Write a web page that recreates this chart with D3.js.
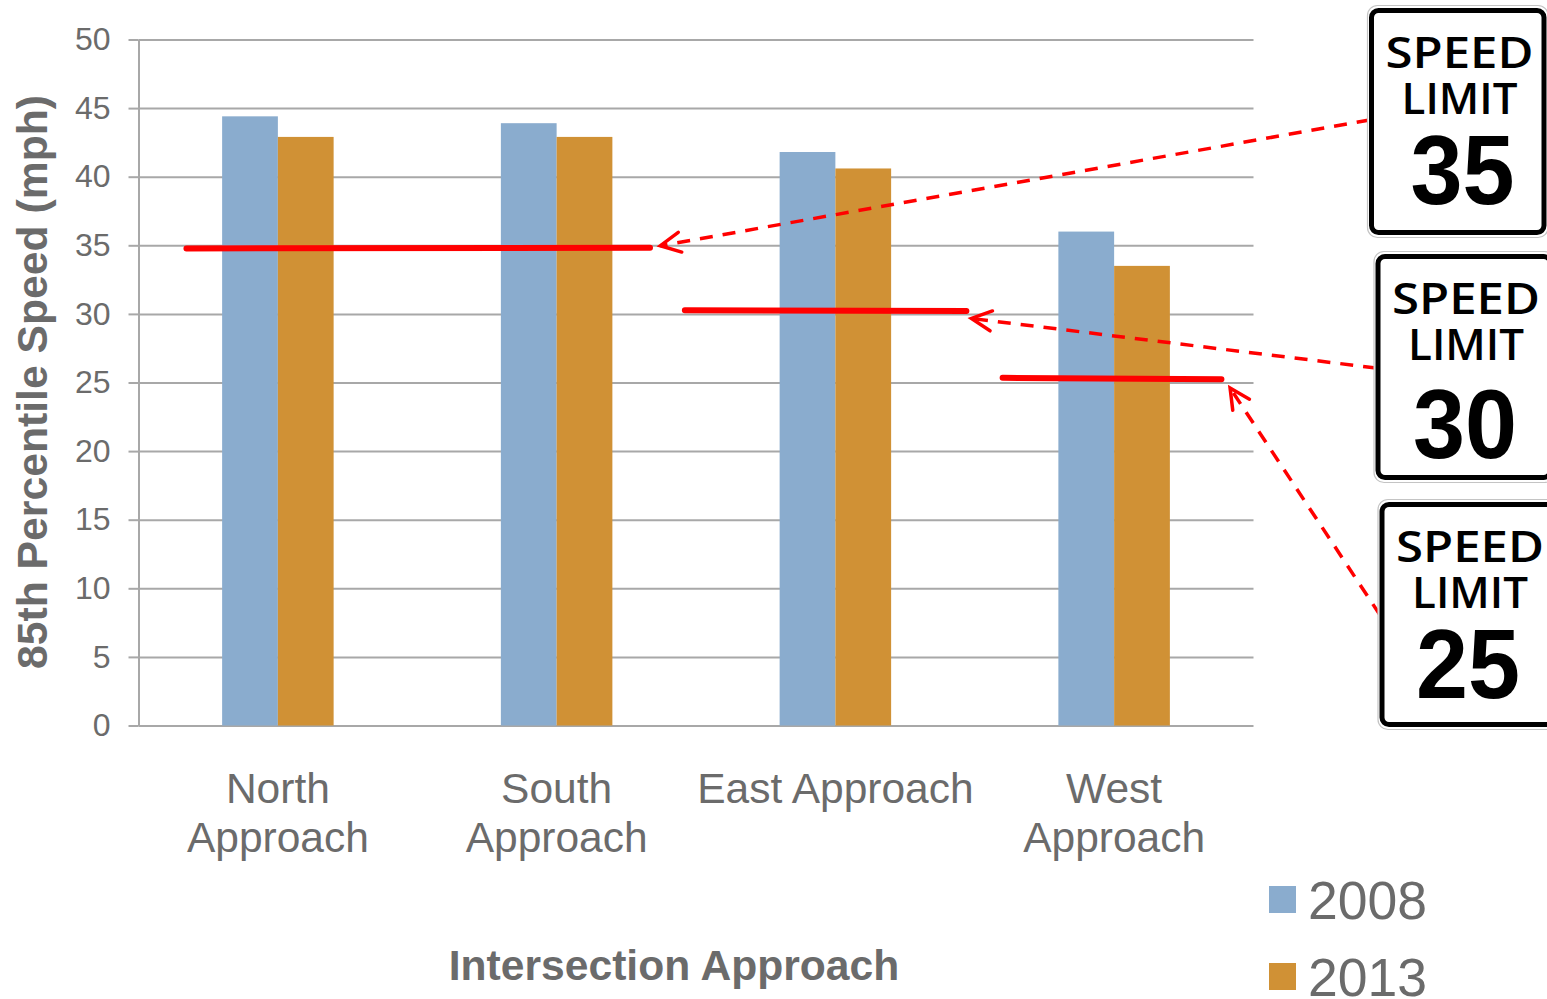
<!DOCTYPE html>
<html>
<head>
<meta charset="utf-8">
<script src="https://cdn.jsdelivr.net/npm/d3@7/dist/d3.min.js"></script>
<style>
  html, body { margin: 0; padding: 0; background: #fff; overflow: hidden; }
  svg { display: block; font-family: "Liberation Sans", Arial, sans-serif; }
</style>
</head>
<body>
<svg id="chart" width="1547" height="999"></svg>
<script>
// Speeds by approach
const approaches = [["North", "Approach"], ["South", "Approach"], ["East Approach"], ["West", "Approach"]];
const years = ["2008", "2013"];
const speeds2008 = [44.4, 43.9, 41.8, 36.0];
const speeds2013 = [42.9, 42.9, 40.6, 33.5];
const yTicks = [0, 5, 10, 15, 20, 25, 30, 35, 40, 45, 50];

// Posted limits: span in approach units along the x axis, level in mph at each end
const limitValues = [35, 30, 25];
const limitFrom = [0.172, 1.96, 3.1];
const limitTo = [1.835, 2.97, 3.885];
const limitLevelFrom = [34.77, 30.27, 25.34];
const limitLevelTo = [34.82, 30.22, 25.24];
const arrowTipAt = [1.872, 2.988, 3.916];
const arrowTipLevel = [34.97, 29.67, 24.6];

const colors = { 2008: "#8aacce", 2013: "#d09135" };
const gray = "#6b6b6b";
const gridGray = "#a8a8a8";
const red = "#ff0000";

const margin = { left: 138.5, right: 1253.5, top: 39.5, bottom: 725.5 };
const svg = d3.select("#chart");

const y = d3.scaleLinear().domain([0, 50]).range([margin.bottom, margin.top]);
const x = d3.scaleBand().domain(d3.range(approaches.length)).range([margin.left, margin.right]);
const inner = d3.scaleBand().domain(years).range([0, x.bandwidth() * 0.4]);
const position = d3.scaleLinear().domain([0, approaches.length]).range([margin.left, margin.right]);

// Gridlines and value axis
const yAxis = d3.axisLeft(y).tickValues(yTicks).tickSize(10).tickPadding(18).tickSizeOuter(0);
const gy = svg.append("g").attr("transform", `translate(${margin.left},0)`).call(yAxis);
gy.select(".domain").attr("stroke", gridGray).attr("stroke-width", 2);
gy.selectAll(".tick line").attr("stroke", gridGray).attr("stroke-width", 2);
gy.selectAll(".tick text").attr("fill", gray).style("font-size", "32px").style("font-family", "Liberation Sans");
gy.selectAll(".tick").append("line")
  .attr("x1", 0).attr("x2", margin.right - margin.left)
  .attr("stroke", gridGray).attr("stroke-width", 2);

// Bars
const offset = x.bandwidth() * 0.3;
const seriesByYear = { 2008: speeds2008, 2013: speeds2013 };
years.forEach(year => {
  svg.append("g").selectAll("rect")
    .data(seriesByYear[year])
    .join("rect")
    .attr("x", (d, i) => x(i) + offset + inner(year))
    .attr("y", d => y(d))
    .attr("width", inner.bandwidth())
    .attr("height", d => y(0) - y(d))
    .attr("fill", colors[year]);
});

// Category labels
approaches.forEach((lines, i) => {
  const label = svg.append("text")
    .attr("text-anchor", "middle")
    .attr("fill", gray)
    .style("font-size", "42.5px");
  lines.forEach((line, k) => {
    label.append("tspan")
      .attr("x", x(i) + x.bandwidth() / 2)
      .attr("y", 803 + k * 49)
      .text(line);
  });
});

// Axis titles
svg.append("text")
  .attr("x", 674).attr("y", 980)
  .attr("text-anchor", "middle")
  .attr("fill", gray)
  .style("font-size", "42.6px").style("font-weight", "bold")
  .text("Intersection Approach");
svg.append("text")
  .attr("transform", "translate(47,382) rotate(-90)")
  .attr("text-anchor", "middle")
  .attr("fill", gray)
  .style("font-size", "42.7px").style("font-weight", "bold")
  .text("85th Percentile Speed (mph)");

// Legend
const legendY = d3.scalePoint().domain(years).range([886, 963]);
years.forEach(year => {
  svg.append("rect")
    .attr("x", 1269).attr("y", legendY(year))
    .attr("width", 27).attr("height", 27)
    .attr("fill", colors[year]);
  svg.append("text")
    .attr("x", 1308).attr("y", legendY(year) + 33)
    .attr("fill", gray)
    .style("font-size", "53.5px")
    .text(year);
});

// Posted speed limit levels
limitValues.forEach((limit, i) => {
  svg.append("line")
    .attr("x1", position(limitFrom[i])).attr("y1", y(limitLevelFrom[i]))
    .attr("x2", position(limitTo[i])).attr("y2", y(limitLevelTo[i]))
    .attr("stroke", red).attr("stroke-width", 6).attr("stroke-linecap", "round");
});

// Leader arrows from the signs to their levels
const signLeft = [1369.5, 1376, 1380];
const signTop = [8, 254, 502];
const signBottom = [235, 480, 727];
const signNumberCenter = [1462.5, 1465, 1468];
const signNumberBase = [204, 458, 698];
const leaderStart = [120, 368, 615];

limitValues.forEach((limit, i) => {
  const tipX = position(arrowTipAt[i]), tipY = y(arrowTipLevel[i]);
  svg.append("line")
    .attr("x1", signLeft[i]).attr("y1", leaderStart[i])
    .attr("x2", tipX).attr("y2", tipY)
    .attr("stroke", red).attr("stroke-width", 3.5)
    .attr("stroke-dasharray", "13 10");
  const angle = Math.atan2(leaderStart[i] - tipY, signLeft[i] - tipX) * 180 / Math.PI;
  svg.append("path")
    .attr("transform", `translate(${tipX},${tipY}) rotate(${angle})`)
    .attr("d", "M20,-10L0,0L20,10")
    .attr("fill", "none").attr("stroke", red).attr("stroke-width", 3.5).attr("stroke-linecap", "round");
});

// Speed limit signs
limitValues.forEach((limit, i) => {
  const left = signLeft[i], top = signTop[i], height = signBottom[i] - signTop[i];
  const width = 176.5;
  const g = svg.append("g");
  g.append("rect")
    .attr("x", left - 2).attr("y", top - 2.5)
    .attr("width", width + 4).attr("height", height + 5)
    .attr("rx", 10)
    .attr("fill", "#fff").attr("stroke", "#c4c4c4").attr("stroke-width", 1.2);
  g.append("rect")
    .attr("x", left + 2).attr("y", top + 2.5)
    .attr("width", width - 4).attr("height", height - 5)
    .attr("rx", 7)
    .attr("fill", "#fff").attr("stroke", "#000").attr("stroke-width", 5);
  [["SPEED", 59.5, 148], ["LIMIT", 106, 116]].forEach(([word, dy, len]) => {
    g.append("text")
      .attr("x", left + 90).attr("y", top + dy)
      .attr("text-anchor", "middle")
      .attr("textLength", len).attr("lengthAdjust", "spacingAndGlyphs")
      .style("font-family", "Open Sans")
      .style("font-weight", 600)
      .style("font-size", "44px")
      .attr("fill", "#000")
      .text(word);
  });
  g.append("text")
    .attr("x", signNumberCenter[i]).attr("y", signNumberBase[i])
    .attr("text-anchor", "middle")
    .attr("textLength", 104).attr("lengthAdjust", "spacingAndGlyphs")
    .style("font-weight", "bold")
    .style("font-size", "98px")
    .attr("fill", "#000")
    .text(limit);
});
</script>
</body>
</html>
